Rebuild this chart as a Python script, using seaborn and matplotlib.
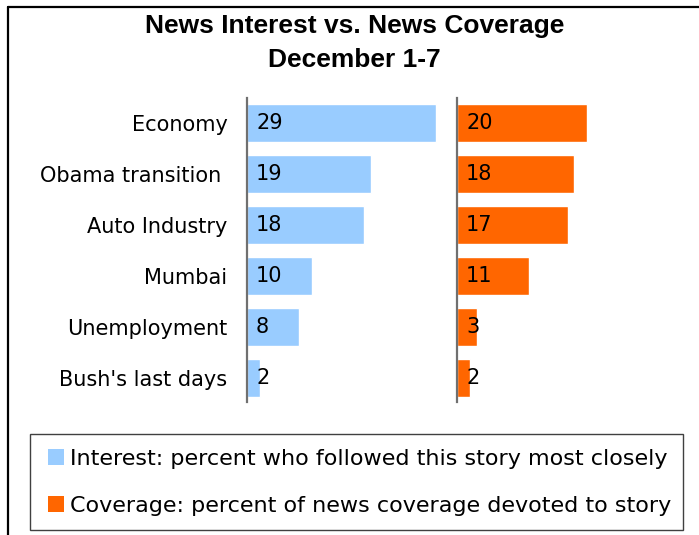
import matplotlib
matplotlib.use("Agg")
import matplotlib.pyplot as plt
import matplotlib.patches as mpatches
from matplotlib.lines import Line2D
import seaborn as sns
import pandas as pd

categories = ["Economy", "Obama transition ", "Auto Industry", "Mumbai", "Unemployment", "Bush's last days"]
interest = [29, 19, 18, 10, 8, 2]
coverage = [20, 18, 17, 11, 3, 2]
legend_labels = ["Interest: percent who followed this story most closely",
                 "Coverage: percent of news coverage devoted to story"]
title_lines = ["News Interest vs. News Coverage", "December 1-7"]

BLUE = "#99CCFF"
ORANGE = "#FF6600"

sns.set_theme(style="white")
plt.rcParams["font.family"] = ["DejaVu Sans"]
plt.rcParams["text.color"] = "black"
plt.rcParams["axes.labelcolor"] = "black"
plt.rcParams["ytick.color"] = "black"
plt.rcParams["xtick.color"] = "black"

W, H = 699, 535
fig = plt.figure(figsize=(W / 100, H / 100), dpi=100)
fig.patch.set_facecolor("white")

df = pd.DataFrame({"story": categories, "interest": interest, "coverage": coverage})

def fx(px):
    return px / W

def fy(py):
    return 1 - py / H

ax_top, ax_bot = 98, 402
axw = 200
unit = 6.5
axL = fig.add_axes([fx(247), fy(ax_bot), axw / W, (ax_bot - ax_top) / H])
axR = fig.add_axes([fx(457), fy(ax_bot), axw / W, (ax_bot - ax_top) / H])

for ax, col, color in [(axL, "interest", BLUE), (axR, "coverage", ORANGE)]:
    sns.barplot(data=df, x=col, y="story", orient="h", color=color, width=0.76,
                saturation=1, ax=ax)
    ax.set_xlim(0, axw / unit)
    ax.set_ylim(5.47, -0.49)
    for s in ["top", "right", "bottom"]:
        ax.spines[s].set_visible(False)
    ax.spines["left"].set_color("#707070")
    ax.spines["left"].set_linewidth(1.6)
    ax.set_xlabel("")
    ax.set_ylabel("")
    ax.set_xticks([])
    ax.tick_params(axis="y", length=0)
    ax.set_facecolor("none")
    for i, v in enumerate(df[col]):
        ax.annotate(str(v), xy=(0, i), xytext=(6.5, 0), textcoords="offset points",
                    ha="left", va="center", fontsize=15, color="black")

axL.tick_params(axis="y", labelsize=15, pad=14, labelcolor="black")
for lab in axL.get_yticklabels():
    lab.set_verticalalignment("center_baseline")
axR.set_yticklabels([])

# Titles
fig.text(fx(354.5), fy(26), title_lines[0], ha="center", va="center",
         fontsize=19, fontweight="bold", family="Liberation Sans", color="black")
fig.text(fx(354.5), fy(60), title_lines[1], ha="center", va="center",
         fontsize=19, fontweight="bold", family="Liberation Sans", color="black")

# Outer frame (top and left)
fig.add_artist(Line2D([fx(8), 1], [fy(7), fy(7)], color="black", lw=1.6,
                      transform=fig.transFigure))
fig.add_artist(Line2D([fx(8), fx(8)], [fy(7), 0], color="black", lw=1.6,
                      transform=fig.transFigure))

# Legend box
fig.add_artist(mpatches.Rectangle((fx(30), fy(530)), (683 - 30) / W, (530 - 434) / H,
                                  transform=fig.transFigure, facecolor="white",
                                  edgecolor="#404040", lw=1.0))

handles = [mpatches.Patch(facecolor=BLUE, edgecolor="none"),
           mpatches.Patch(facecolor=ORANGE, edgecolor="none")]
leg = fig.legend(handles, legend_labels, loc="upper left",
                 bbox_to_anchor=(fx(48), fy(449)), fontsize=16,
                 frameon=False, handlelength=0.72, handleheight=0.72,
                 handletextpad=0.27, borderpad=0, labelspacing=1.2,
                 borderaxespad=0)
for t in leg.get_texts():
    t.set_color("black")

fig.savefig("out.png", dpi=100, facecolor="white")
